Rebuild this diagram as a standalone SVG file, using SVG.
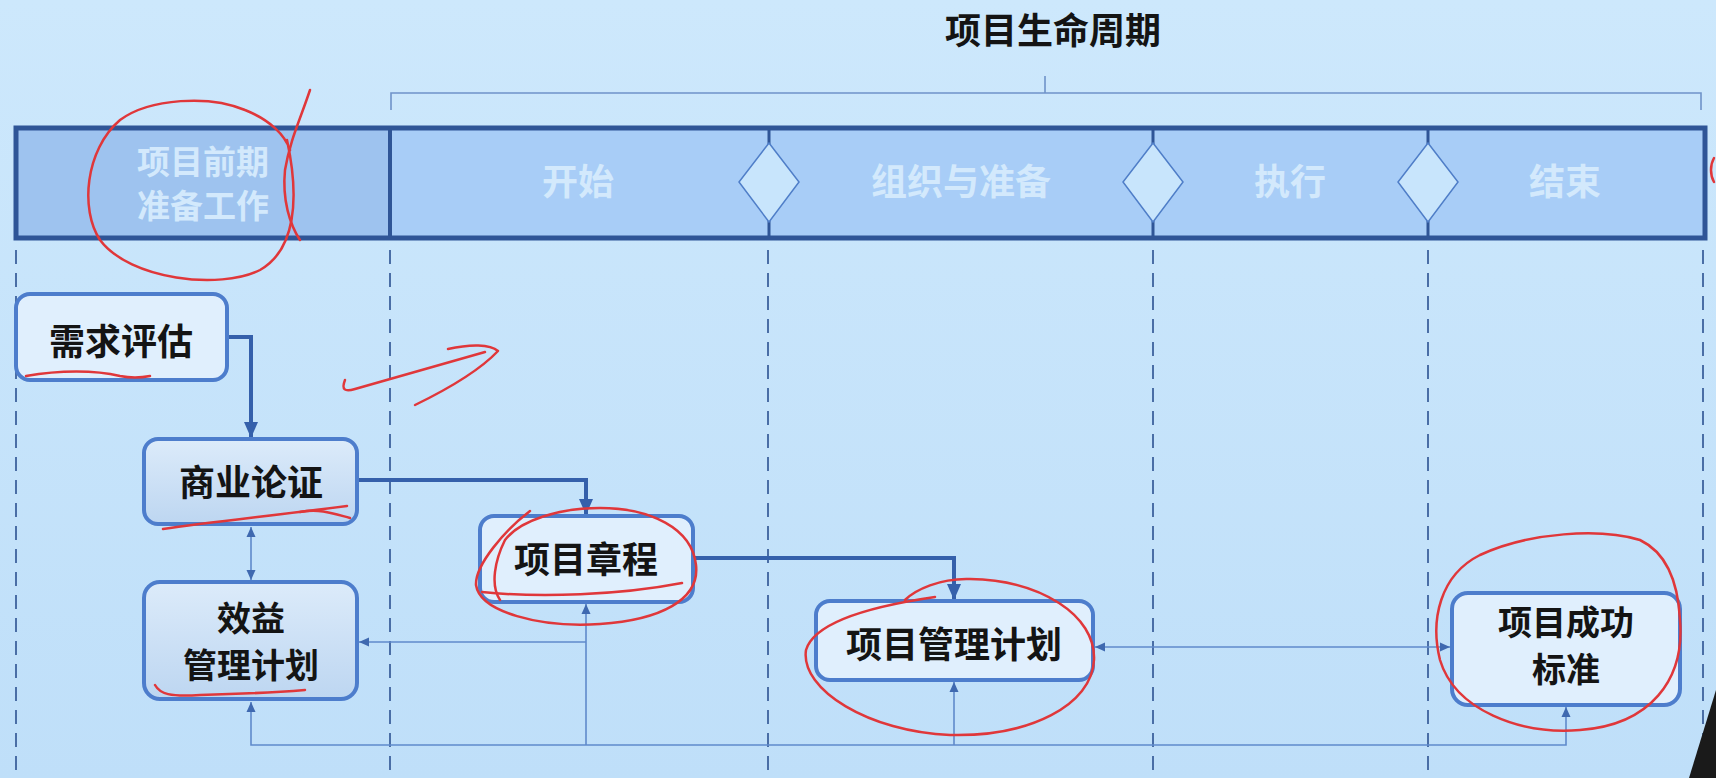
<svg xmlns="http://www.w3.org/2000/svg" width="1716" height="778" viewBox="0 0 1716 778">
<defs>
<linearGradient id="bg" x1="0" y1="0" x2="0" y2="1">
<stop offset="0" stop-color="#cde8fc"/>
<stop offset="1" stop-color="#bfdff9"/>
</linearGradient>
<linearGradient id="dark" x1="0" y1="0" x2="0" y2="1">
<stop offset="0" stop-color="#dcebfa"/>
<stop offset="1" stop-color="#bdd6f1"/>
</linearGradient>
<marker id="ah" markerUnits="userSpaceOnUse" viewBox="0 0 16 16" refX="15" refY="8" markerWidth="16" markerHeight="16" orient="auto-start-reverse">
<path d="M0 1 L16 8 L0 15 Z" fill="#3560ab"/>
</marker>
<marker id="as" markerUnits="userSpaceOnUse" viewBox="0 0 10 10" refX="10" refY="5" markerWidth="10" markerHeight="10" orient="auto-start-reverse">
<path d="M0 0.5 L10 5 L0 9.5 Z" fill="#3f69b0"/>
</marker>
<style>
.bar{fill:#a8cdf7}
.seg{font-family:'Noto Sans CJK SC',sans-serif;font-size:36px;font-weight:bold;fill:#d3e9fc;text-anchor:middle}
.seg2{font-size:33px}
.node rect{stroke:#4d7dcc;stroke-width:4}
.lt{fill:#e0effd}
.dk{fill:url(#dark)}
.nt{font-family:'Noto Sans CJK SC',sans-serif;font-size:36px;font-weight:bold;fill:#141414;text-anchor:middle}
.nt2{font-size:34px}
.dash{stroke:#4a6ea6;stroke-width:2;stroke-dasharray:14 9;fill:none}
.thick{stroke:#3560ab;stroke-width:4;fill:none}
.thin{stroke:#5f8acb;stroke-width:1.6;fill:none}
.red{stroke:#e0373a;stroke-width:2.5;fill:none;stroke-linecap:round;stroke-linejoin:round}
.dia{fill:#c8e5fc;stroke:#4f7ec8;stroke-width:1.5}
</style>
</defs>
<rect width="1716" height="778" fill="url(#bg)"/>

<g id="title">
<text x="1053" y="44" style="font-family:'Noto Sans CJK SC',sans-serif;font-size:36px;font-weight:bold;fill:#141414;text-anchor:middle">项目生命周期</text>
<path d="M391 110 V93 H1701 V110 M1045 93 V76" stroke="#6f93c9" stroke-width="1.6" fill="none"/>
</g>

<g id="phase-bar">
<rect x="16" y="128" width="1689" height="110" class="bar"/>
<rect x="16" y="128" width="374" height="110" fill="#9ec3ef"/>
<g stroke="#2f5597">
<line x1="769" y1="128" x2="769" y2="238" stroke-width="3"/>
<line x1="1153" y1="128" x2="1153" y2="238" stroke-width="3"/>
<line x1="1428" y1="128" x2="1428" y2="238" stroke-width="3"/>
</g>
<rect x="16" y="128" width="1689" height="110" fill="none" stroke="#2f5597" stroke-width="5"/>
<line x1="390" y1="128" x2="390" y2="238" stroke="#2f5597" stroke-width="4"/>
<polygon class="dia" points="769,143 799,182 769,222 739,182"/>
<polygon class="dia" points="1153,143 1183,182 1153,222 1123,182"/>
<polygon class="dia" points="1428,143 1458,182 1428,222 1398,182"/>
<text class="seg seg2" x="203" y="174">项目前期</text>
<text class="seg seg2" x="203" y="218">准备工作</text>
<text class="seg" x="578" y="195">开始</text>
<text class="seg" x="961" y="195">组织与准备</text>
<text class="seg" x="1290" y="195">执行</text>
<text class="seg" x="1565" y="195">结束</text>
</g>

<g id="lanes">
<line class="dash" x1="16" y1="250" x2="16" y2="778"/>
<line class="dash" x1="390" y1="250" x2="390" y2="778"/>
<line class="dash" x1="768" y1="250" x2="768" y2="778"/>
<line class="dash" x1="1153" y1="250" x2="1153" y2="778"/>
<line class="dash" x1="1428" y1="250" x2="1428" y2="778"/>
<line class="dash" x1="1703" y1="250" x2="1703" y2="778"/>
</g>

<g id="connectors">
<path class="thick" d="M228 337 H251 V437" marker-end="url(#ah)"/>
<path class="thick" d="M357 480 H586 V514" marker-end="url(#ah)"/>
<path class="thick" d="M693 558 H954 V599" marker-end="url(#ah)"/>
<path class="thin" d="M251 527 V580" marker-start="url(#as)" marker-end="url(#as)"/>
<path class="thin" d="M586 745 V604" marker-end="url(#as)"/>
<path class="thin" d="M586 642 H359" marker-end="url(#as)"/>
<path class="thin" d="M251 702 V745 H1566 V707" marker-start="url(#as)" marker-end="url(#as)"/>
<path class="thin" d="M954 745 V682" marker-end="url(#as)"/>
<path class="thin" d="M1095 647 H1450" marker-start="url(#as)" marker-end="url(#as)"/>
</g>

<g id="n-xuqiu" class="node">
<rect class="lt" x="16" y="294" width="211" height="86" rx="14"/>
<text class="nt" x="121" y="355">需求评估</text>
</g>
<g id="n-shangye" class="node">
<rect class="dk" x="144" y="439" width="213" height="85" rx="14"/>
<text class="nt" x="251" y="496">商业论证</text>
</g>
<g id="n-xiaoyi" class="node">
<rect class="dk" x="144" y="582" width="213" height="117" rx="16"/>
<text class="nt nt2" x="251" y="631">效益</text>
<text class="nt nt2" x="251" y="678">管理计划</text>
</g>
<g id="n-zhangcheng" class="node">
<rect class="lt" x="480" y="516" width="213" height="86" rx="14"/>
<text class="nt" x="586" y="573">项目章程</text>
</g>
<g id="n-guanli" class="node">
<rect class="lt" x="816" y="601" width="277" height="79" rx="14"/>
<text class="nt" x="954" y="658">项目管理计划</text>
</g>
<g id="n-chenggong" class="node">
<rect class="lt" x="1452" y="593" width="228" height="112" rx="16"/>
<text class="nt nt2" x="1566" y="635">项目成功</text>
<text class="nt nt2" x="1566" y="682">标准</text>
</g>

<g id="annotations">
<path class="red" d="M310 90 C300 120 290 140 285 170 C282 200 290 225 300 240"/>
<path class="red" d="M287 140 C300 200 295 250 260 270 C220 290 130 280 100 240 C80 210 85 150 120 120 C150 98 210 95 245 110 C270 120 285 135 290 150"/>
<path class="red" d="M26 376 C60 370 95 370 120 376 C135 379 145 377 150 376"/>
<path class="red" d="M345 380 C341 390 345 392 355 389 L485 352"/>
<path class="red" d="M448 349 C470 344 490 344 498 351 C480 370 450 388 415 405"/>
<path class="red" d="M163 529 C210 522 270 516 347 506"/>
<path class="red" d="M300 512 C320 508 335 514 350 518"/>
<path class="red" d="M155 685 C160 694 170 697 200 695 C240 694 280 692 305 690"/>
<path class="red" d="M530 511 C505 530 475 565 476 585 C480 612 540 628 600 624 C660 620 700 600 696 565 C692 528 650 508 600 508 C560 508 520 520 505 540 C495 560 490 585 500 600"/>
<path class="red" d="M682 583 C620 595 540 598 482 592"/>
<path class="red" d="M935 597 C880 605 815 620 806 650 C800 690 870 732 950 735 C1030 737 1092 705 1094 660 C1096 615 1040 580 970 579 C940 578 915 590 905 600"/>
<path class="red" d="M1640 540 C1600 528 1530 532 1480 555 C1440 575 1430 620 1440 660 C1455 710 1520 735 1580 730 C1650 725 1685 680 1680 620 C1678 580 1665 552 1640 540"/>
<path class="red" d="M1714 158 C1710 165 1710 175 1714 182"/>
</g>

<polygon points="1689,778 1716,690 1716,778" fill="#1a1a1a"/>
</svg>
